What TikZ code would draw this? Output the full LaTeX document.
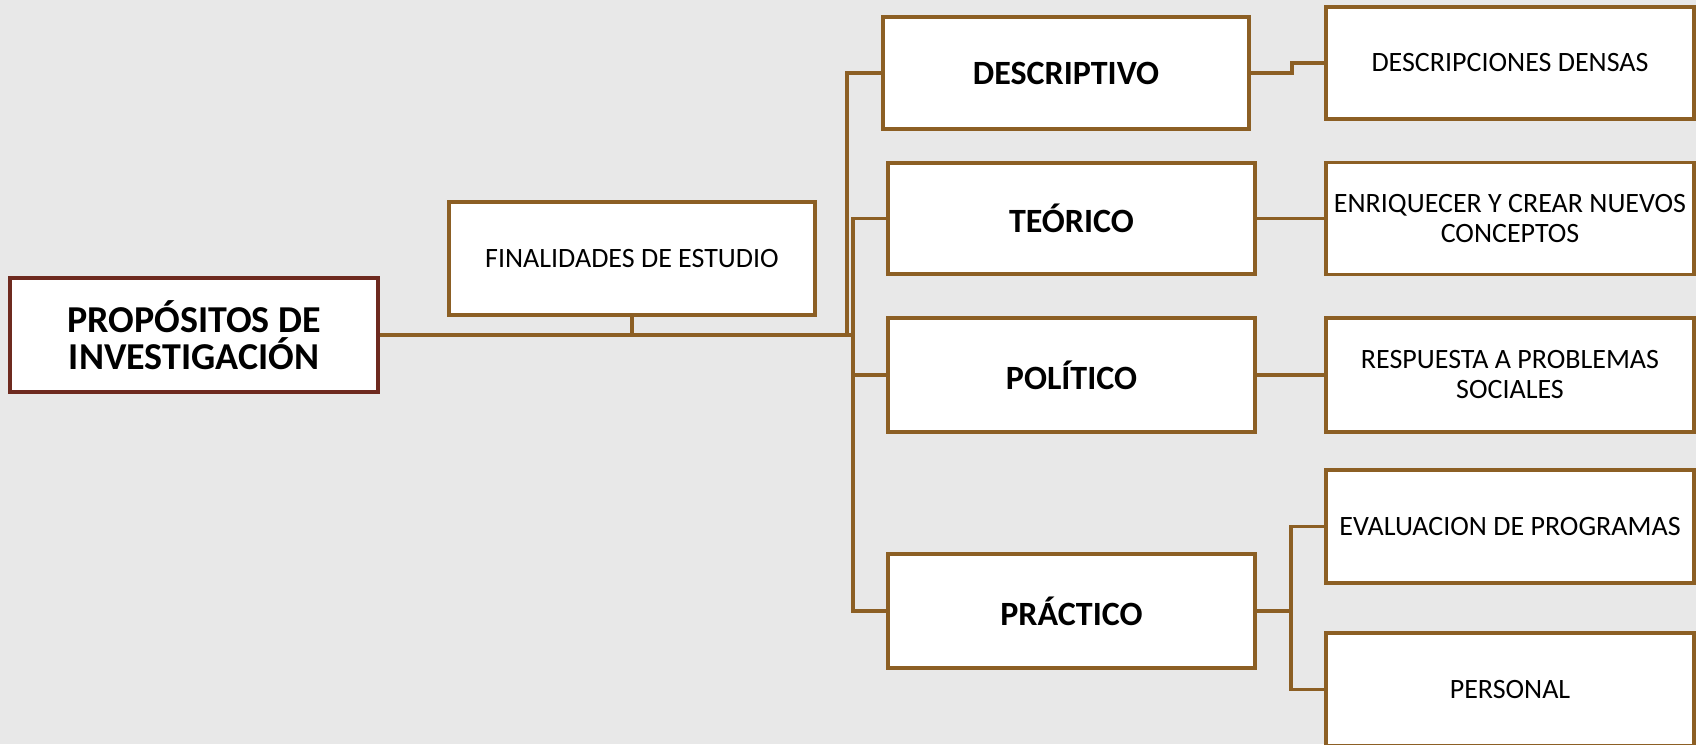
\documentclass[tikz,border=0pt]{standalone}
\usepackage{fontspec}
\setmainfont{Carlito}
\definecolor{bgc}{HTML}{E8E8E8}
\definecolor{brn}{HTML}{8C5F24}
\definecolor{dred}{HTML}{6E2A1F}
\begin{document}
\begin{tikzpicture}[x=1pt,y=-1pt,
  box/.style={draw=brn,line width=3.6pt,fill=white,rectangle,align=center,inner sep=2pt},
  small/.style={box,font=\fontsize{28}{30}\selectfont},
  mid/.style={box,font=\fontsize{34}{36}\selectfont\bfseries},
  conn/.style={draw=brn,line width=3.3pt}]
\fill[bgc] (0,0) rectangle (1696,744);
\useasboundingbox (0,0) rectangle (1696,744);
\clip (0,0) rectangle (1696,744);
\node[box,draw=dred,minimum width=368pt,minimum height=114pt,font=\fontsize{38}{37}\selectfont\bfseries] (prop) at (194,335) {PROPÓSITOS DE\\INVESTIGACIÓN};
\node[small,minimum width=366pt,minimum height=113pt] (fin) at (632,258.5) {FINALIDADES DE ESTUDIO};
\node[mid,minimum width=366pt,minimum height=112pt] (desc) at (1066,73) {DESCRIPTIVO};
\node[mid,minimum width=367pt,minimum height=111pt] (teor) at (1071.5,218.5) {TEÓRICO};
\node[mid,minimum width=367pt,minimum height=114pt] (pol) at (1071.5,375) {POLÍTICO};
\node[mid,minimum width=367pt,minimum height=114pt] (prac) at (1071.5,611) {PRÁCTICO};
\node[small,minimum width=368pt,minimum height=112pt] (dd) at (1510,63) {DESCRIPCIONES DENSAS};
\node[small,minimum width=368pt,minimum height=112pt] (enr) at (1510,218.5) {ENRIQUECER Y CREAR NUEVOS\\CONCEPTOS};
\node[small,minimum width=368pt,minimum height=114pt] (resp) at (1510,375) {RESPUESTA A PROBLEMAS\\SOCIALES};
\node[small,minimum width=368pt,minimum height=113pt] (eval) at (1510,526.5) {EVALUACION DE PROGRAMAS};
\node[small,minimum width=368pt,minimum height=113pt] (pers) at (1510,689.5) {PERSONAL};
\coordinate (ja) at (847,335);
\coordinate (jb) at (853,335);
\coordinate (jt) at (853,218.5);
\coordinate (jp) at (853,611);
\coordinate (jd) at (847,73);
\coordinate (sd1) at (1292,73);
\coordinate (sd2) at (1292,63);
\coordinate (sp) at (1291,611);
\coordinate (se) at (1291,526.5);
\coordinate (sq) at (1291,689.5);
\draw[conn] (prop.east) -- (jb);
\draw[conn] (fin.south) -- (fin.south |- prop.east);
\draw[conn] (desc.west) -- (jd) -- (ja);
\draw[conn] (teor.west) -- (jt) -- (jp) -- (prac.west);
\draw[conn] (pol.west) -- (pol.west -| jb);
\draw[conn] (desc.east) -- (sd1) -- (sd2) -- (dd.west);
\draw[conn] (teor.east) -- (enr.west);
\draw[conn] (pol.east) -- (resp.west);
\draw[conn] (prac.east) -- (sp);
\draw[conn] (eval.west) -- (se) -- (sq) -- (pers.west);
\end{tikzpicture}
\end{document}
